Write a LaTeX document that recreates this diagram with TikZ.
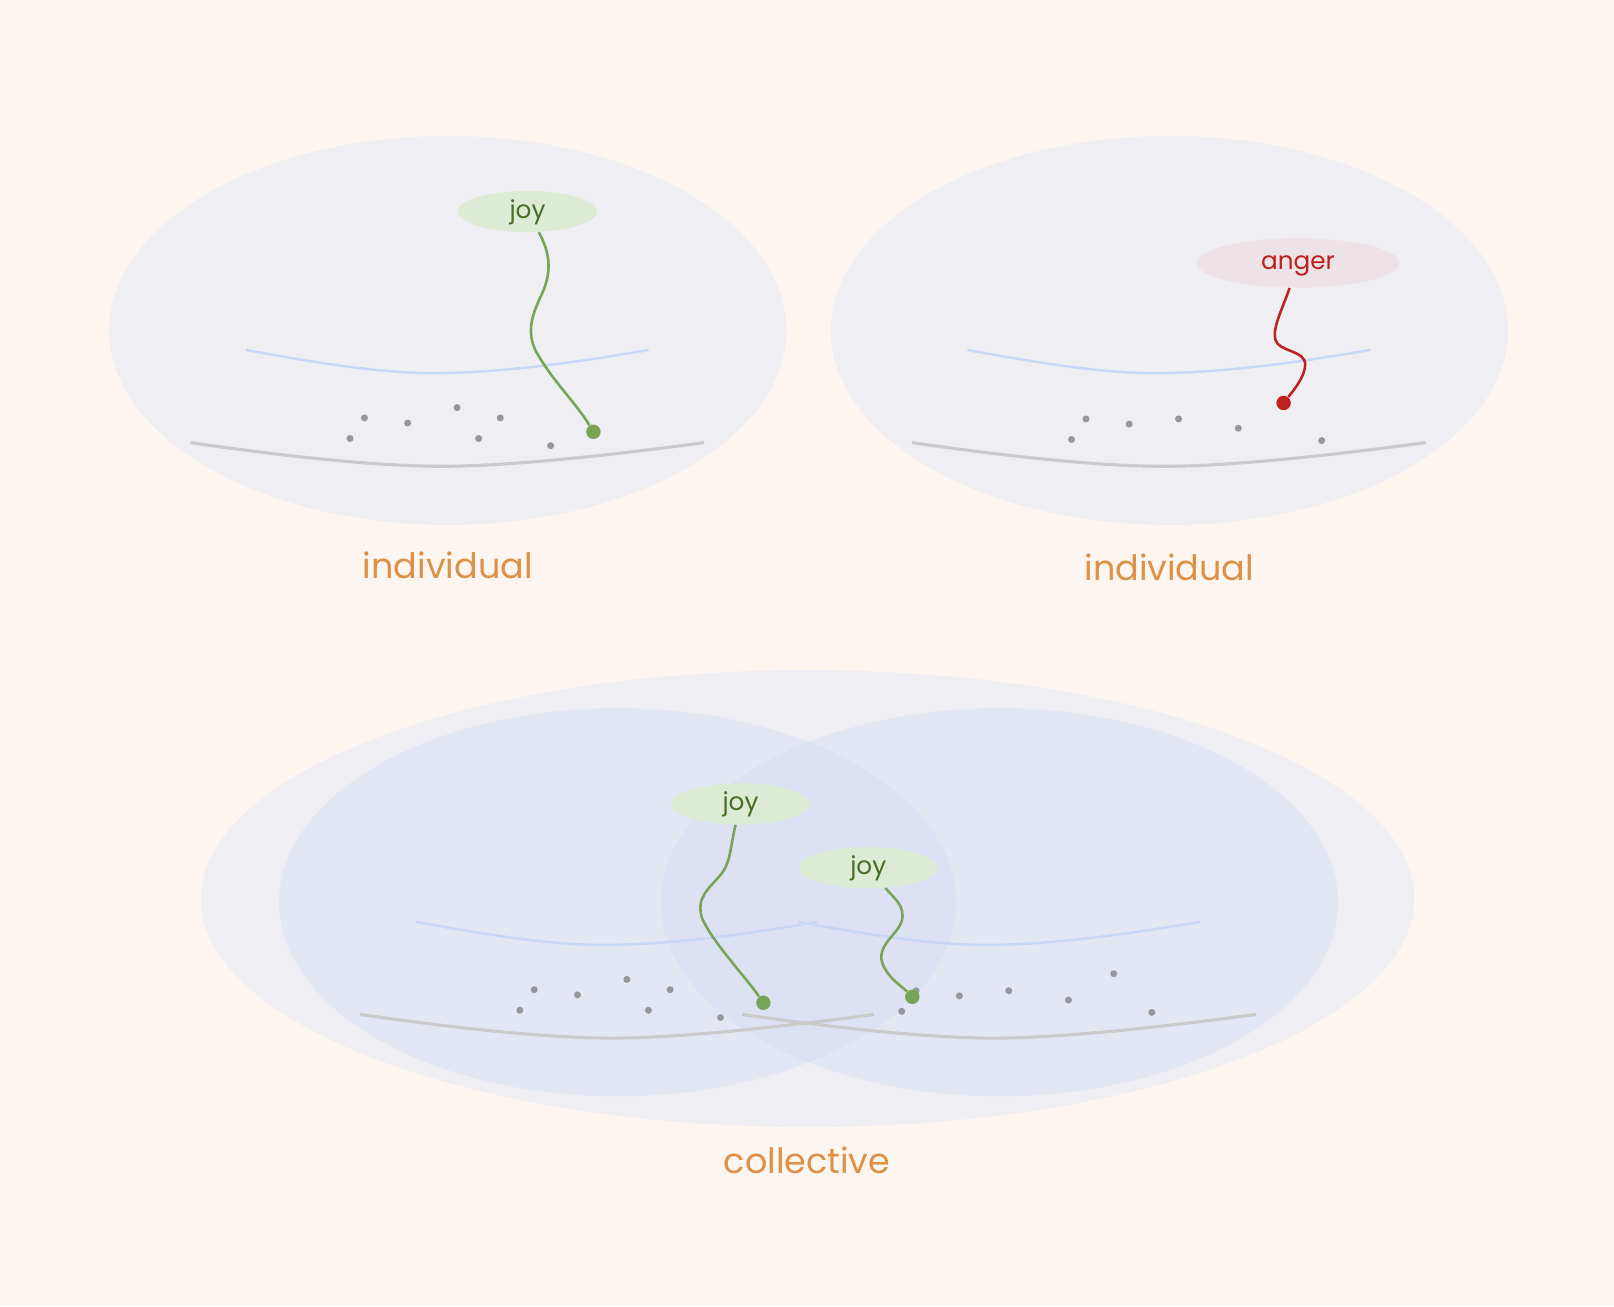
\documentclass[tikz,border=0pt]{standalone}
\usepackage{fontspec}
\setmainfont{Poppins}
\usetikzlibrary{shapes.geometric}

\definecolor{paper}{RGB}{253,246,240}
\definecolor{mindfill}{RGB}{239,239,243}
\definecolor{selffill}{RGB}{210,219,245}
\definecolor{skyline}{RGB}{200,215,245}
\definecolor{groundline}{RGB}{202,202,202}
\definecolor{grain}{RGB}{150,150,155}
\definecolor{joyfill}{RGB}{221,234,212}
\definecolor{joytext}{RGB}{68,110,40}
\definecolor{joystem}{RGB}{120,165,85}
\definecolor{angerfill}{RGB}{237,226,230}
\definecolor{angertext}{RGB}{190,30,30}
\definecolor{angerstem}{RGB}{190,35,32}
\definecolor{caption}{RGB}{221,145,72}

\tikzset{
  mind/.style={fill=mindfill,draw=none},
  self/.style={fill=selffill,fill opacity=0.4,draw=none},
  sky/.style={draw=skyline,line width=1.2pt},
  ground/.style={draw=groundline,line width=1.5pt},
  speck/.style={fill=grain},
  feeling/.style={ellipse,inner sep=0pt,text height=1.6ex,text depth=0.4ex,font=\fontsize{12}{14}\selectfont},
  joy/.style={feeling,fill=joyfill,text=joytext,minimum width=67.5pt,minimum height=20pt},
  anger/.style={feeling,fill=angerfill,text=angertext,minimum width=98.5pt,minimum height=24pt},
  seed/.style={circle,inner sep=0pt,minimum size=7pt},
  joyline/.style={draw=joystem,line width=1.25pt},
  angerline/.style={draw=angerstem,line width=1.25pt},
  tag/.style={text=caption,font=\fontsize{17}{20}\selectfont}
}

\begin{document}
\begin{tikzpicture}[x=0.5pt,y=-0.5pt]

  \fill[paper] (0,0) rectangle (1568,1268.8);
  \useasboundingbox (0,0) rectangle (1568,1268.8);

  \fill[mind] (435,321) ellipse [x radius=329, y radius=189];
  \fill[mind] (1136,321) ellipse [x radius=329, y radius=189];
  \fill[mind] (784.5,873) ellipse [x radius=589.5, y radius=222];
  \fill[self] (600,876.5) ellipse [x radius=329, y radius=188.5];
  \fill[self] (971,876.5) ellipse [x radius=329, y radius=188.5];

  \foreach \cx/\cy in {435/321,1136/321,600/876.5,971/876.5} {
    \draw[sky] (\cx-196,\cy+19) .. controls (\cx-120,\cy+33) and (\cx-60,\cy+42) .. (\cx-10,\cy+41.5)
      .. controls (\cx+50,\cy+41) and (\cx+120,\cy+32) .. (\cx+195,\cy+19);
    \draw[ground] (\cx-250,\cy+109) .. controls (\cx-160,\cy+122) and (\cx-70,\cy+132) .. (\cx-5,\cy+132)
      .. controls (\cx+60,\cy+132) and (\cx+160,\cy+121) .. (\cx+249,\cy+109);
  }

  \foreach \cx/\cy in {435/321,600/876.5}
    \foreach \x/\y in {-81/85,-39/90,9/75,51/85,-95/105,30/105,100/112}
      \fill[speck] (\cx+\x,\cy+\y) circle (3.4);
  \foreach \cx/\cy in {1136/321,971/876.5}
    \foreach \x/\y in {-81/86,-39/91,9/86,67/95,-95/106,148/107,111/69.5}
      \fill[speck] (\cx+\x,\cy+\y) circle (3.4);

  \node[joy] (joyA) at (512.5,205.5) {joy};
  \node[anger] (angerB) at (1261,255.5) {anger};
  \node[joy] (joyL) at (719.4,781) {joy};
  \node[joy] (joyR) at (843.5,843) {joy};

  \node[seed,fill=joystem] (seedA) at (576.5,419.5) {};
  \node[seed,fill=angerstem] (seedB) at (1247,391.5) {};
  \node[seed,fill=joystem] (seedL) at (741.6,974.2) {};
  \node[seed,fill=joystem] (seedR) at (886.3,968.4) {};

  \draw[joyline] (joyA) .. controls (534,245) and (536,262) .. (528,282)
    .. controls (520,300) and (510,318) .. (520,340)
    .. controls (535,368) and (560,392) .. (seedA);
  \draw[angerline] (angerB) .. controls (1246,300) and (1236,318) .. (1239,330)
    .. controls (1242,342) and (1268,340) .. (1268,354)
    .. controls (1268,366) and (1256,380) .. (seedB);
  \draw[joyline] (joyL) .. controls (709,825) and (710,838) .. (700,850)
    .. controls (688,864) and (676,872) .. (682,892)
    .. controls (692,915) and (725,950) .. (seedL);
  \draw[joyline] (joyR) .. controls (868,872) and (880,880) .. (876,895)
    .. controls (872,908) and (852,918) .. (857,935)
    .. controls (862,950) and (876,958) .. (seedR);

  \node[tag] (capA) at (435,549) {individual};
  \node[tag] (capB) at (1136,551) {individual};
  \node[tag] (capC) at (784,1127) {collective};

\end{tikzpicture}
\end{document}
